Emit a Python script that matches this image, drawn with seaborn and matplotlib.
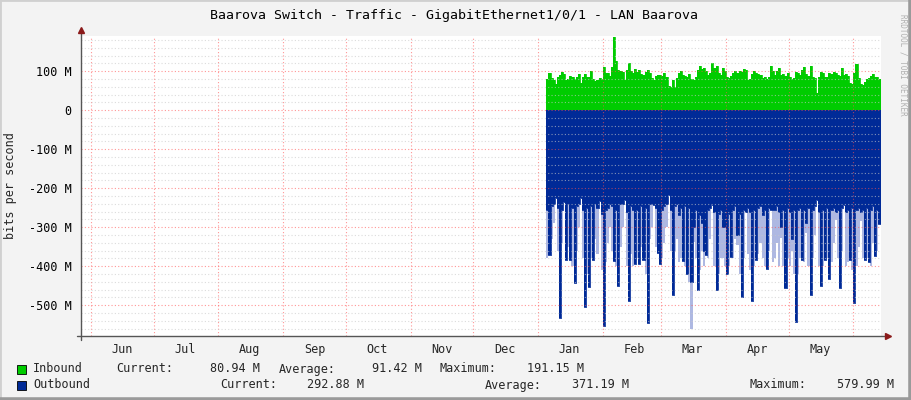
import matplotlib
matplotlib.use("Agg")
import matplotlib.pyplot as plt
import matplotlib.dates as mdates
from matplotlib.lines import Line2D
from matplotlib.patches import Rectangle
from matplotlib.ticker import MultipleLocator, FuncFormatter
import pandas as pd
import seaborn as sns

# daily traffic, Mbit/s, starting at first_day
first_day = "2011-01-05"
inbound = [
    80, 94, 82, 76, 66, 86, 90, 98, 92, 78, 80, 88, 86, 80, 84, 92, 70, 86, 92, 84,
    86, 100, 80, 74, 76, 82, 80, 110, 96, 94, 88, 110, 188, 126, 104, 100, 98, 76, 104, 122,
    100, 96, 106, 98, 104, 92, 90, 98, 104, 96, 82, 78, 88, 90, 90, 88, 96, 84, 62, 60,
    76, 60, 82, 94, 100, 90, 88, 86, 92, 80, 76, 84, 102, 114, 106, 108, 100, 90, 94, 122,
    108, 112, 96, 90, 108, 100, 86, 82, 88, 96, 100, 96, 100, 98, 106, 102, 78, 80, 92, 100,
    94, 92, 90, 82, 86, 80, 84, 114, 100, 90, 100, 108, 90, 92, 88, 96, 86, 80, 82, 98,
    94, 90, 104, 110, 92, 88, 114, 86, 82, 44, 86, 98, 96, 84, 86, 94, 92, 98, 96, 90,
    88, 108, 90, 92, 88, 70, 68, 96, 118, 82, 68, 64, 72, 80, 82, 88, 92, 86, 84, 81,
]
# outbound: the solid part of each day
outbound = [
    255, 372, 245, 240, 224, 250, 532, 255, 236, 385, 240, 385, 250, 444, 245, 240, 226, 255, 504, 250,
    453, 245, 383, 240, 250, 233, 265, 553, 255, 250, 240, 245, 387, 255, 452, 240, 240, 230, 260, 490,
    245, 255, 395, 255, 395, 245, 383, 250, 545, 240, 240, 244, 250, 367, 394, 255, 245, 240, 218, 255,
    474, 245, 240, 270, 250, 387, 245, 420, 250, 440, 300, 255, 462, 270, 290, 360, 372, 255, 250, 244,
    260, 462, 265, 255, 300, 300, 420, 265, 376, 255, 245, 320, 265, 479, 255, 261, 250, 260, 490, 255,
    383, 250, 245, 270, 255, 406, 250, 256, 255, 255, 245, 260, 300, 255, 457, 250, 260, 330, 255, 543,
    255, 250, 383, 255, 290, 250, 474, 255, 245, 231, 260, 452, 255, 385, 250, 432, 255, 250, 260, 255,
    457, 250, 244, 260, 255, 385, 250, 495, 255, 250, 260, 255, 383, 250, 390, 255, 245, 374, 255, 293,
]
# outbound: how deep the faded part of each day goes
outbound_fade = [
    380, 372, 330, 290, 224, 360, 532, 340, 236, 385, 350, 385, 400, 444, 360, 300, 226, 380, 504, 420,
    453, 380, 383, 330, 370, 233, 410, 553, 390, 340, 300, 360, 387, 400, 452, 350, 300, 230, 400, 490,
    370, 400, 395, 380, 395, 350, 383, 420, 545, 330, 300, 244, 350, 367, 394, 380, 340, 300, 218, 360,
    474, 360, 330, 390, 380, 387, 400, 420, 440, 560, 337, 380, 462, 410, 360, 400, 372, 380, 330, 244,
    400, 462, 420, 380, 380, 400, 420, 400, 376, 380, 330, 346, 420, 479, 380, 261, 370, 410, 490, 400,
    383, 370, 340, 380, 400, 406, 360, 256, 390, 380, 340, 400, 329, 400, 457, 380, 400, 360, 420, 543,
    420, 380, 383, 390, 316, 400, 474, 380, 320, 231, 400, 452, 400, 385, 380, 432, 390, 340, 281, 380,
    457, 360, 244, 400, 390, 385, 410, 495, 400, 350, 283, 380, 383, 380, 390, 400, 340, 374, 360, 293,
]
month_names = ["Jun", "Jul", "Aug", "Sep", "Oct", "Nov", "Dec", "Jan", "Feb", "Mar", "Apr", "May"]
inbound_stats = ["80.94 M", "91.42 M", "191.15 M"]
outbound_stats = ["292.88 M", "371.19 M", "579.99 M"]

GREEN = "#00cc00"
BLUE = "#002a97"
FADE = "#aeb8e2"
W, H = 911, 400

sns.set_style("white")
plt.rcParams["font.family"] = ["DejaVu Sans Mono", "DejaVu Sans"]

df = pd.DataFrame({
    "date": pd.date_range(first_day, periods=len(inbound), freq="D"),
    "inbound": [v * 1e6 for v in inbound],
    "outbound": [-v * 1e6 for v in outbound],
    "fade": [-v * 1e6 for v in outbound_fade],
})
tail = df.iloc[[-1]].copy()
tail["date"] = tail["date"] + pd.Timedelta(days=1)
df = pd.concat([df, tail], ignore_index=True)

fig = plt.figure(figsize=(W / 100, H / 100), dpi=100, facecolor="#f3f3f3")
ax = fig.add_axes([81 / W, 1 - 336 / H, 800 / W, 300 / H])
ax.set_facecolor("white")

ax.fill_between(df["date"], 0, df["fade"], step="post", color=FADE, lw=0, zorder=1.5)
ax.fill_between(df["date"], 0, df["inbound"], step="post", color=GREEN, lw=0, zorder=2)
ax.fill_between(df["date"], 0, df["outbound"], step="post", color=BLUE, lw=0, zorder=2)
sns.lineplot(data=df, x="date", y="inbound", drawstyle="steps-post", color=GREEN, lw=0.6, ax=ax, zorder=2)
sns.lineplot(data=df, x="date", y="outbound", drawstyle="steps-post", color=BLUE, lw=0.6, ax=ax, zorder=2)

ax.set_xlim(pd.Timestamp("2010-05-27 05:00"), pd.Timestamp("2011-06-14 05:00"))
ax.set_ylim(-579e6, 190e6)

# grid drawn over the data, the rrdtool way
ax.yaxis.set_major_locator(MultipleLocator(100e6))
ax.yaxis.set_minor_locator(MultipleLocator(20e6))
ax.yaxis.set_major_formatter(FuncFormatter(lambda v, p: "0" if abs(v) < 1 else f"{v / 1e6:.0f} M"))
ax.xaxis.set_major_locator(mdates.MonthLocator(bymonthday=1))
ax.xaxis.set_major_formatter(plt.NullFormatter())
ax.xaxis.set_minor_locator(mdates.MonthLocator(bymonthday=16))
ax.xaxis.set_minor_formatter(FuncFormatter(lambda v, p: mdates.num2date(v).strftime("%b")))
ax.grid(False)
ax.grid(which="minor", axis="y", color="#c8c8c8", alpha=0.65, ls=(0, (1, 2)), lw=0.8)
ax.grid(which="major", axis="y", color="#ff5050", alpha=0.6, ls=(0, (1, 2)), lw=0.8)
ax.grid(which="major", axis="x", color="#ff5050", alpha=0.6, ls=(0, (1, 2)), lw=0.8)
ax.set_axisbelow(False)

ax.tick_params(axis="y", which="major", length=2, color="#707070", pad=5, labelsize=8.5, labelcolor="#000000")
ax.tick_params(axis="y", which="minor", length=0)
ax.tick_params(axis="x", which="major", length=3, color="#ff9090", labelsize=8.5)
ax.tick_params(axis="x", which="minor", length=0, pad=5, labelsize=8.5)
ax.set_xlabel("")
ax.set_ylabel("")
for s in ax.spines.values():
    s.set_visible(False)

# axis lines with little arrows
ax.plot([0, 0], [-4 / 300, 1 + 6 / 300], transform=ax.transAxes, color="#555555", lw=1, clip_on=False, zorder=4)
ax.plot([-4 / 800, 1 + 6 / 800], [0, 0], transform=ax.transAxes, color="#555555", lw=1, clip_on=False, zorder=4)
ax.plot([0], [1 + 6 / 300], marker="^", ms=4, color="#8b1a1a", transform=ax.transAxes, clip_on=False, zorder=5)
ax.plot([1 + 7 / 800], [0], marker=">", ms=4, color="#8b1a1a", transform=ax.transAxes, clip_on=False, zorder=5)

fig.text(454 / W, 1 - 15 / H, "Baarova Switch - Traffic - GigabitEthernet1/0/1 - LAN Baarova",
         ha="center", va="center", fontsize=9.5, color="#000000")
fig.text(11 / W, 1 - 186 / H, "bits per second", rotation=90, ha="center", va="center", fontsize=8.5)
fig.text(903 / W, 1 - 14 / H, "RRDTOOL / TOBI OETIKER", rotation=270, ha="center", va="top",
         fontsize=5.5, color="#b0b0b0")

# legend rows
rows = [
    ("Inbound", GREEN, 369, inbound_stats, [116, 260, 279, 422, 440, 584]),
    ("Outbound", BLUE, 385, outbound_stats, [220, 364, 485, 629, 750, 894]),
]
for name, col, yc, stats, xs in rows:
    fy = 1 - yc / H
    fig.add_artist(Rectangle((17 / W, 1 - (yc + 5) / H), 9 / W, 9 / H, facecolor=col,
                             edgecolor="#000000", lw=0.6, transform=fig.transFigure))
    fig.text(33 / W, fy, name, ha="left", va="center", fontsize=8.5)
    for (lab, val), (xl, xr) in zip(zip(["Current:", "Average:", "Maximum:"], stats),
                                    [(xs[0], xs[1]), (xs[2], xs[3]), (xs[4], xs[5])]):
        fig.text(xl / W, fy, lab, ha="left", va="center", fontsize=8.5)
        fig.text(xr / W, fy, val, ha="right", va="center", fontsize=8.5)

# frame around the image
fig.add_artist(Line2D([0, 0], [0, 1], transform=fig.transFigure, color="#d0d0d0", lw=2))
fig.add_artist(Line2D([0, 1], [1, 1], transform=fig.transFigure, color="#d0d0d0", lw=2))
fig.add_artist(Line2D([1, 1], [0, 1], transform=fig.transFigure, color="#9a9a9a", lw=4))
fig.add_artist(Line2D([0, 1], [0, 0], transform=fig.transFigure, color="#9a9a9a", lw=4))

fig.savefig("out.png", dpi=100, facecolor=fig.get_facecolor())
